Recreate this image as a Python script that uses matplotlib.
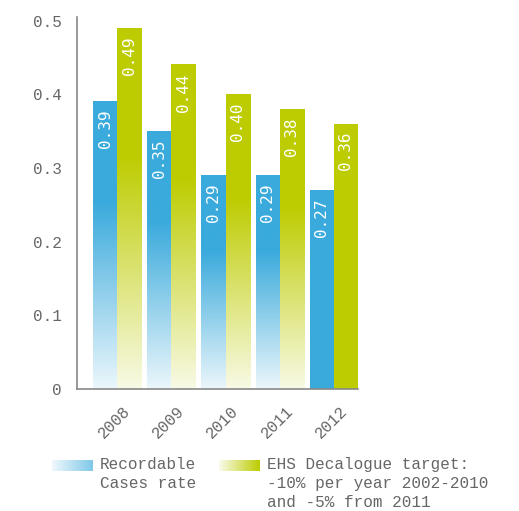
import numpy as np
import matplotlib
matplotlib.use("Agg")
import matplotlib.pyplot as plt
from matplotlib.colors import to_rgb

years = ["2008", "2009", "2010", "2011", "2012"]
recordable = [0.39, 0.35, 0.29, 0.29, 0.27]
target = [0.49, 0.44, 0.40, 0.38, 0.36]
faded = [True, True, True, True, False]
yticks = [0, 0.1, 0.2, 0.3, 0.4, 0.5]
ytick_labels = ["0", "0.1", "0.2", "0.3", "0.4", "0.5"]
legend_labels = ["Recordable\nCases rate",
                 "EHS Decalogue target:\n-10% per year 2002-2010\nand -5% from 2011"]

BLUE = "#3AAADC"
GREEN = "#BDCC00"
GRAY = "#666666"
MONO = "Liberation Mono"

fig = plt.figure(figsize=(5.19, 5.11), dpi=100)
ax = fig.add_axes([0.1484, 0.2387, 0.5414, 0.728])

x = np.arange(len(years))
w = 0.445


def grad_img(color, n=256):
    c = np.array(to_rgb(color))
    t = np.linspace(0, 1, n)[:, None]
    f = 0.1 + 0.9 * np.clip(t / 0.65, 0, 1)
    img = (1 - f) * 1.0 + f * c[None, :]
    return img[:, None, :]


for series, color, off in [(recordable, BLUE, -w / 2), (target, GREEN, w / 2)]:
    bars = ax.bar(x + off, series, width=w, color=color, linewidth=0, zorder=2)
    for b, v, fd in zip(bars, series, faded):
        if fd:
            b.set_facecolor("none")
            ax.imshow(grad_img(color), extent=[b.get_x(), b.get_x() + w, 0, v],
                      origin="lower", aspect="auto", zorder=2, interpolation="bilinear")
        ax.text(b.get_x() + w / 2, v - 0.011, f"{v:.2f}", rotation=90,
                ha="center", va="top", color="white", fontsize=11.5,
                family="DejaVu Sans Mono", zorder=3)

ax.set_xlim(-0.74, 4.445)
ax.set_ylim(0, 0.505)
ax.set_yticks(yticks)
ax.set_yticklabels(ytick_labels, family=MONO, fontsize=11.5, color=GRAY)
ax.tick_params(axis="y", length=0, pad=11)
ax.set_xticks(x + 0.1)
ax.set_xticklabels(years, rotation=45, ha="right", va="top", rotation_mode="anchor",
                   family=MONO, fontsize=11.5, color=GRAY)
ax.tick_params(axis="x", length=0, pad=10)
for s in ["top", "right"]:
    ax.spines[s].set_visible(False)
for s in ["left", "bottom"]:
    ax.spines[s].set_color("#888888")
    ax.spines[s].set_linewidth(1.2)


def swatch(left_px, color, endf):
    sax = fig.add_axes([left_px / 519, 1 - 471 / 511, 41 / 519, 11 / 511])
    c = np.array(to_rgb(color))
    t = np.linspace(0, 1, 128)[None, :]
    f = 0.08 + (endf - 0.08) * t
    img = (1 - f[..., None]) * 1.0 + f[..., None] * c[None, None, :]
    sax.imshow(img, aspect="auto", interpolation="bilinear")
    sax.axis("off")


swatch(52, BLUE, 0.65)
swatch(219, GREEN, 1.0)
fig.text(100 / 519, 1 - 457 / 511, legend_labels[0], ha="left", va="top",
         family=MONO, fontsize=11.5, color=GRAY, linespacing=1.35)
fig.text(267 / 519, 1 - 457 / 511, legend_labels[1], ha="left", va="top",
         family=MONO, fontsize=11.5, color=GRAY, linespacing=1.35)

fig.savefig("out.png", dpi=100)
